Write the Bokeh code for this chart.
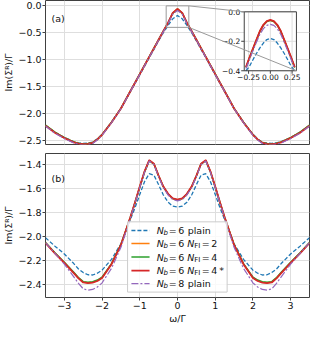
import math
from bokeh.plotting import figure
from bokeh.layouts import column
from bokeh.models import Range1d, FixedTicker, Label
from bokeh.core.properties import value
from bokeh.embed import file_html
from bokeh.resources import INLINE

# ---------------- data ----------------
omega = [-3.5, -3.25, -3.0, -2.75, -2.625, -2.5, -2.375, -2.25, -2.125, -2.0, -1.75, -1.5,
         -1.25, -1.125, -1.0, -0.875, -0.75, -0.625, -0.5, -0.375, -0.25, -0.125, 0.0,
         0.125, 0.25, 0.375, 0.5, 0.625, 0.75, 0.875, 1.0, 1.125, 1.25, 1.5, 1.75, 2.0,
         2.125, 2.25, 2.375, 2.5, 2.625, 2.75, 3.0, 3.25, 3.5]

# panel (a)
top_nb6_plain = [-2.225, -2.35, -2.45, -2.525, -2.548, -2.56, -2.555, -2.535, -2.475, -2.39, -2.165, -1.91,
                 -1.595, -1.44, -1.285, -1.125, -0.965, -0.81, -0.65, -0.50, -0.365, -0.24, -0.18,
                 -0.24, -0.365, -0.50, -0.65, -0.81, -0.965, -1.125, -1.285, -1.44, -1.595, -1.91, -2.165, -2.39,
                 -2.475, -2.535, -2.555, -2.56, -2.548, -2.525, -2.45, -2.35, -2.225]
top_nb6_fi2 = [-2.225, -2.355, -2.455, -2.535, -2.559, -2.572, -2.566, -2.547, -2.485, -2.398, -2.168, -1.908,
               -1.588, -1.428, -1.268, -1.108, -0.948, -0.788, -0.628, -0.469, -0.314, -0.132, -0.057,
               -0.132, -0.314, -0.469, -0.628, -0.788, -0.948, -1.108, -1.268, -1.428, -1.588, -1.908, -2.168, -2.398,
               -2.485, -2.547, -2.566, -2.572, -2.559, -2.535, -2.455, -2.355, -2.225]
top_nb6_fi4 = [-2.22, -2.35, -2.452, -2.532, -2.556, -2.57, -2.563, -2.545, -2.483, -2.396, -2.166, -1.907,
               -1.587, -1.427, -1.267, -1.107, -0.947, -0.787, -0.627, -0.469, -0.315, -0.134, -0.058,
               -0.134, -0.315, -0.469, -0.627, -0.787, -0.947, -1.107, -1.267, -1.427, -1.587, -1.907, -2.166, -2.396,
               -2.483, -2.545, -2.563, -2.57, -2.556, -2.532, -2.452, -2.35, -2.22]
top_nb6_fi4s = [-2.23, -2.36, -2.46, -2.54, -2.562, -2.575, -2.57, -2.55, -2.485, -2.40, -2.17, -1.91,
                -1.59, -1.43, -1.27, -1.11, -0.95, -0.79, -0.63, -0.47, -0.315, -0.13, -0.055,
                -0.13, -0.315, -0.47, -0.63, -0.79, -0.95, -1.11, -1.27, -1.43, -1.59, -1.91, -2.17, -2.40,
                -2.485, -2.55, -2.57, -2.575, -2.562, -2.54, -2.46, -2.36, -2.23]
top_nb8_plain = [-2.235, -2.37, -2.47, -2.55, -2.572, -2.585, -2.58, -2.56, -2.497, -2.41, -2.175, -1.915,
                 -1.595, -1.435, -1.275, -1.115, -0.955, -0.795, -0.635, -0.48, -0.33, -0.155, -0.085,
                 -0.155, -0.33, -0.48, -0.635, -0.795, -0.955, -1.115, -1.275, -1.435, -1.595, -1.915, -2.175, -2.41,
                 -2.497, -2.56, -2.58, -2.585, -2.572, -2.55, -2.47, -2.37, -2.235]

# inset of panel (a)
inset_omega = [-0.28, -0.24, -0.2, -0.16, -0.12, -0.08, -0.04, 0.0, 0.04, 0.08, 0.12, 0.16, 0.2, 0.24, 0.28]
inset_nb6_plain = [-0.4, -0.37, -0.325, -0.283, -0.245, -0.212, -0.188, -0.18, -0.188, -0.212, -0.245, -0.283, -0.325, -0.37, -0.4]
inset_nb6_fi2 = [-0.377, -0.312, -0.252, -0.192, -0.132, -0.09, -0.065, -0.057, -0.065, -0.09, -0.132, -0.192, -0.252, -0.312, -0.377]
inset_nb6_fi4 = [-0.378, -0.313, -0.253, -0.193, -0.133, -0.091, -0.066, -0.058, -0.066, -0.091, -0.133, -0.193, -0.253, -0.313, -0.378]
inset_nb6_fi4s = [-0.375, -0.31, -0.25, -0.19, -0.13, -0.088, -0.063, -0.055, -0.063, -0.088, -0.13, -0.19, -0.25, -0.31, -0.375]
inset_nb8_plain = [-0.385, -0.325, -0.265, -0.207, -0.153, -0.114, -0.092, -0.085, -0.092, -0.114, -0.153, -0.207, -0.265, -0.325, -0.385]

# panel (b)
bot_nb6_plain = [-2.01, -2.08, -2.145, -2.225, -2.27, -2.30, -2.318, -2.32, -2.305, -2.28, -2.19, -2.06,
                 -1.86, -1.76, -1.65, -1.545, -1.478, -1.49, -1.57, -1.655, -1.715, -1.748, -1.755,
                 -1.748, -1.715, -1.655, -1.57, -1.49, -1.478, -1.545, -1.65, -1.76, -1.86, -2.06, -2.19, -2.28,
                 -2.305, -2.32, -2.318, -2.30, -2.27, -2.225, -2.145, -2.08, -2.01]
bot_nb6_fi2 = [-2.052, -2.138, -2.218, -2.302, -2.345, -2.379, -2.384, -2.38, -2.367, -2.342, -2.228, -2.069,
               -1.841, -1.716, -1.587, -1.462, -1.367, -1.396, -1.496, -1.586, -1.646, -1.684, -1.695,
               -1.684, -1.646, -1.586, -1.496, -1.396, -1.367, -1.462, -1.587, -1.716, -1.841, -2.069, -2.228, -2.342,
               -2.367, -2.38, -2.384, -2.379, -2.345, -2.302, -2.218, -2.138, -2.052]
bot_nb6_fi4 = [-2.05, -2.135, -2.215, -2.298, -2.342, -2.375, -2.38, -2.376, -2.362, -2.338, -2.225, -2.068,
               -1.842, -1.718, -1.59, -1.465, -1.37, -1.398, -1.497, -1.587, -1.647, -1.685, -1.696,
               -1.685, -1.647, -1.587, -1.497, -1.398, -1.37, -1.465, -1.59, -1.718, -1.842, -2.068, -2.225, -2.338,
               -2.362, -2.376, -2.38, -2.375, -2.342, -2.298, -2.215, -2.135, -2.05]
bot_nb6_fi4s = [-2.054, -2.14, -2.22, -2.305, -2.348, -2.382, -2.387, -2.383, -2.37, -2.345, -2.23, -2.07,
                -1.84, -1.715, -1.585, -1.46, -1.365, -1.395, -1.495, -1.585, -1.645, -1.683, -1.694,
                -1.683, -1.645, -1.585, -1.495, -1.395, -1.365, -1.46, -1.585, -1.715, -1.84, -2.07, -2.23, -2.345,
                -2.37, -2.383, -2.387, -2.382, -2.348, -2.305, -2.22, -2.14, -2.054]
bot_nb8_plain = [-2.05, -2.14, -2.23, -2.335, -2.39, -2.435, -2.446, -2.44, -2.42, -2.385, -2.265, -2.09,
                 -1.845, -1.72, -1.592, -1.467, -1.372, -1.402, -1.503, -1.593, -1.655, -1.693, -1.704,
                 -1.693, -1.655, -1.593, -1.503, -1.402, -1.372, -1.467, -1.592, -1.72, -1.845, -2.09, -2.265, -2.385,
                 -2.42, -2.44, -2.446, -2.435, -2.39, -2.335, -2.23, -2.14, -2.05]

# legend text parts
legend_nb = ["6", "6", "6", "6", "8"]
legend_nfi = ["", "2", "4", "4", ""]
legend_suffix = ["plain", "", "", "*", "plain"]

# ticks
x_ticks = [-3, -2, -1, 0, 1, 2, 3]
x_tick_labels = ["\u22123", "\u22122", "\u22121", "0", "1", "2", "3"]
top_y_ticks = [0.0, -0.5, -1.0, -1.5, -2.0, -2.5]
top_y_tick_labels = ["0.0", "\u22120.5", "\u22121.0", "\u22121.5", "\u22122.0", "\u22122.5"]
bot_y_ticks = [-1.4, -1.6, -1.8, -2.0, -2.2, -2.4]
bot_y_tick_labels = ["\u22121.4", "\u22121.6", "\u22121.8", "\u22122.0", "\u22122.2", "\u22122.4"]
inset_x_ticks = [-0.25, 0.0, 0.25]
inset_x_tick_labels = ["\u22120.25", "0.00", "0.25"]
inset_y_ticks = [0.0, -0.2, -0.4]
inset_y_tick_labels = ["0.0", "\u22120.2", "\u22120.4"]

# ---------------- layout / style ----------------
FONT = "DejaVu Sans"
FS = "9.5px"
FS_LEG = "9.5px"
FS_SUB = "7px"
FS_INSET = "7.5px"
LEFT, FW, RIGHT, FH = 40, 264, 1, 144
XR = (-3.5, 3.5)
TOP_YR = (-2.58, 0.10)
BOT_YR = (-2.507, -1.31)
INSET_XR = (-0.3, 0.3)
INSET_YR = (-0.4, 0.0)
INSET_FX = (0.7528, 0.9505)
INSET_FY = (0.5121, 0.9215)
FRAME_C = "#404040"
GRID_C = "#dedede"
CONN_C = "#9a9a9a"
TXT_C = "#111111"

styles = [
    dict(color="#1f77b4", line_dash="4 2", line_width=1.3),
    dict(color="#ff7f0e", line_dash="solid", line_width=1.5),
    dict(color="#2ca02c", line_dash="solid", line_width=1.5),
    dict(color="#d62728", line_dash="solid", line_width=1.8),
    dict(color="#9467bd", line_dash="7 2 2 2", line_width=1.2),
]
top_series = [top_nb6_plain, top_nb6_fi2, top_nb6_fi4, top_nb6_fi4s, top_nb8_plain]
inset_series = [inset_nb6_plain, inset_nb6_fi2, inset_nb6_fi4, inset_nb6_fi4s, inset_nb8_plain]
bot_series = [bot_nb6_plain, bot_nb6_fi2, bot_nb6_fi4, bot_nb6_fi4s, bot_nb8_plain]


def make_fig(yr, btop, bbottom, show_x):
    p = figure(frame_width=FW, frame_height=FH, min_border_left=LEFT, min_border_right=RIGHT,
               min_border_top=btop, min_border_bottom=bbottom,
               x_range=Range1d(*XR), y_range=Range1d(*yr),
               x_axis_location="below" if show_x else None,
               output_backend="svg", toolbar_location=None)
    p.background_fill_color = "white"
    p.border_fill_color = "white"
    p.outline_line_color = FRAME_C
    p.outline_line_width = 1
    p.grid.grid_line_color = GRID_C
    p.grid.grid_line_width = 1
    for ax in p.axis:
        ax.axis_line_color = None
        ax.major_tick_in = 0
        ax.major_tick_out = 3
        ax.major_tick_line_color = FRAME_C
        ax.minor_tick_line_color = None
        ax.major_label_text_font = FONT
        ax.major_label_text_font_size = FS
        ax.major_label_text_color = TXT_C
        ax.major_label_standoff = 1
        ax.axis_label_text_font = FONT
        ax.axis_label_text_font_size = FS
        ax.axis_label_text_font_style = "normal"
        ax.axis_label_text_color = TXT_C
        ax.axis_label_standoff = 1
    p.xgrid.ticker = FixedTicker(ticks=x_ticks)
    if show_x:
        p.xaxis.ticker = FixedTicker(ticks=x_ticks)
        p.xaxis.major_label_overrides = {float(t): s for t, s in zip(x_ticks, x_tick_labels)}
    p.yaxis.axis_label = "Im(\u03a3\u1d3f)/\u0393"
    return p


# ---------------- panel (a) ----------------
top = make_fig(TOP_YR, 0, 4, False)
top.yaxis.ticker = FixedTicker(ticks=top_y_ticks)
top.ygrid.ticker = FixedTicker(ticks=top_y_ticks)
top.yaxis.major_label_overrides = {float(t): s for t, s in zip(top_y_ticks, top_y_tick_labels)}

for ys, st in zip(top_series, styles):
    top.line(omega, ys, **st)

# indicator rectangle
top.quad(left=[INSET_XR[0]], right=[INSET_XR[1]], bottom=[INSET_YR[0]], top=[INSET_YR[1]],
         fill_color=None, line_color=CONN_C, line_width=1)


def inset_range(lim, frac):
    span = (lim[1] - lim[0]) / (frac[1] - frac[0])
    start = lim[0] - frac[0] * span
    return Range1d(start, start + span)


ixr = inset_range(INSET_XR, INSET_FX)
iyr = inset_range(INSET_YR, INSET_FY)
top.extra_x_ranges = {"ix": ixr}
top.extra_y_ranges = {"iy": iyr}
IK = dict(x_range_name="ix", y_range_name="iy")


def to_ix(x):
    return ixr.start + (x - XR[0]) / (XR[1] - XR[0]) * (ixr.end - ixr.start)


def to_iy(y):
    return iyr.start + (y - TOP_YR[0]) / (TOP_YR[1] - TOP_YR[0]) * (iyr.end - iyr.start)


top.quad(left=[INSET_XR[0]], right=[INSET_XR[1]], bottom=[INSET_YR[0]], top=[INSET_YR[1]],
         fill_color="white", line_color=None, **IK)
top.segment(x0=inset_x_ticks, y0=[INSET_YR[0]] * 3, x1=inset_x_ticks, y1=[INSET_YR[1]] * 3,
            line_color=GRID_C, line_width=1, **IK)
top.segment(x0=[INSET_XR[0]] * 3, y0=inset_y_ticks, x1=[INSET_XR[1]] * 3, y1=inset_y_ticks,
            line_color=GRID_C, line_width=1, **IK)
for ys, st in zip(inset_series, styles):
    top.line(inset_omega, ys, **st, **IK)
top.quad(left=[INSET_XR[0]], right=[INSET_XR[1]], bottom=[INSET_YR[0]], top=[INSET_YR[1]],
         fill_color=None, line_color=FRAME_C, line_width=1, **IK)

ppx = FW / (ixr.end - ixr.start)
ppy = FH / (iyr.end - iyr.start)
tx = 3.0 / ppx
ty = 3.0 / ppy
top.segment(x0=inset_x_ticks, y0=[INSET_YR[0]] * 3, x1=inset_x_ticks, y1=[INSET_YR[0] - ty] * 3,
            line_color=FRAME_C, line_width=1, **IK)
top.segment(x0=[INSET_XR[0]] * 3, y0=inset_y_ticks, x1=[INSET_XR[0] - tx] * 3, y1=inset_y_ticks,
            line_color=FRAME_C, line_width=1, **IK)
top.text(x=[INSET_XR[0]] * 3, y=inset_y_ticks, text=inset_y_tick_labels, x_offset=-4,
         text_align="right", text_baseline="middle", text_font=value(FONT),
         text_font_size=FS_INSET, text_color=TXT_C, **IK)
top.text(x=inset_x_ticks, y=[INSET_YR[0]] * 3, text=inset_x_tick_labels, y_offset=3,
         text_align="center", text_baseline="top", text_font=value(FONT),
         text_font_size=FS_INSET, text_color=TXT_C, **IK)

# connector lines
top.segment(x0=[to_ix(INSET_XR[1]), to_ix(INSET_XR[1])], y0=[to_iy(INSET_YR[1]), to_iy(INSET_YR[0])],
            x1=[INSET_XR[0], INSET_XR[1]], y1=[INSET_YR[1], INSET_YR[0]],
            line_color=CONN_C, line_width=1, **IK)

top.add_layout(Label(x=XR[0], y=-0.243, x_offset=6, text="(a)", text_baseline="middle",
                     text_font=FONT, text_font_size=FS, text_color=TXT_C))

# ---------------- panel (b) ----------------
bot = make_fig(BOT_YR, 5, 0, True)
bot.yaxis.ticker = FixedTicker(ticks=bot_y_ticks)
bot.ygrid.ticker = FixedTicker(ticks=bot_y_ticks)
bot.yaxis.major_label_overrides = {float(t): s for t, s in zip(bot_y_ticks, bot_y_tick_labels)}
bot.xaxis.axis_label = "\u03c9/\u0393"

for ys, st in zip(bot_series, styles):
    bot.line(omega, ys, **st)

bot.add_layout(Label(x=XR[0], y=-1.514, x_offset=6, text="(b)", text_baseline="middle",
                     text_font=FONT, text_font_size=FS, text_color=TXT_C))

# legend (drawn by hand for the sub-scripted labels)
LEG_BOX = (-1.324, 1.316, -2.462, -1.878)
LEG_LINE_X = (-1.222, -0.741)
LEG_TEXT_X = -0.552
LEG_ROW_Y = [-1.950, -2.059, -2.171, -2.283, -2.392]

bot.quad(left=[LEG_BOX[0]], right=[LEG_BOX[1]], bottom=[LEG_BOX[2]], top=[LEG_BOX[3]],
         fill_color="white", fill_alpha=0.8, line_color="#cccccc", line_width=1)

pieces = {"x": [], "y": [], "text": [], "dx": [], "dy": [], "style": [], "size": []}


def piece(row_y, txt, dx, dy, style, size):
    pieces["x"].append(LEG_TEXT_X)
    pieces["y"].append(row_y)
    pieces["text"].append(txt)
    pieces["dx"].append(dx)
    pieces["dy"].append(dy)
    pieces["style"].append(style)
    pieces["size"].append(size)


for i, ry in enumerate(LEG_ROW_Y):
    st = styles[i]
    bot.line([LEG_LINE_X[0], LEG_LINE_X[1]], [ry, ry], **st)
    piece(ry, "N", 0, 0, "italic", FS_LEG)
    piece(ry, "b", 6.8, 2.5, "italic", FS_SUB)
    piece(ry, "=", 12.0, 0, "normal", FS_LEG)
    piece(ry, legend_nb[i], 21.5, 0, "normal", FS_LEG)
    if legend_nfi[i]:
        piece(ry, "N", 30.5, 0, "italic", FS_LEG)
        piece(ry, "FI", 37.6, 2.5, "normal", FS_SUB)
        piece(ry, "=", 45.0, 0, "normal", FS_LEG)
        piece(ry, legend_nfi[i], 54.5, 0, "normal", FS_LEG)
        if legend_suffix[i] == "*":
            piece(ry, "*", 62.5, 0, "normal", FS_LEG)
    else:
        piece(ry, legend_suffix[i], 31.0, 0, "normal", FS_LEG)

bot.text(x=pieces["x"], y=pieces["y"], text=pieces["text"], x_offset=pieces["dx"],
         y_offset=pieces["dy"], text_font_style=pieces["style"], text_font_size=pieces["size"],
         text_font=value(FONT), text_align="left", text_baseline="middle", text_color=TXT_C)

layout = column(top, bot, spacing=0)
open("out.html", "w").write(file_html(layout, INLINE))
